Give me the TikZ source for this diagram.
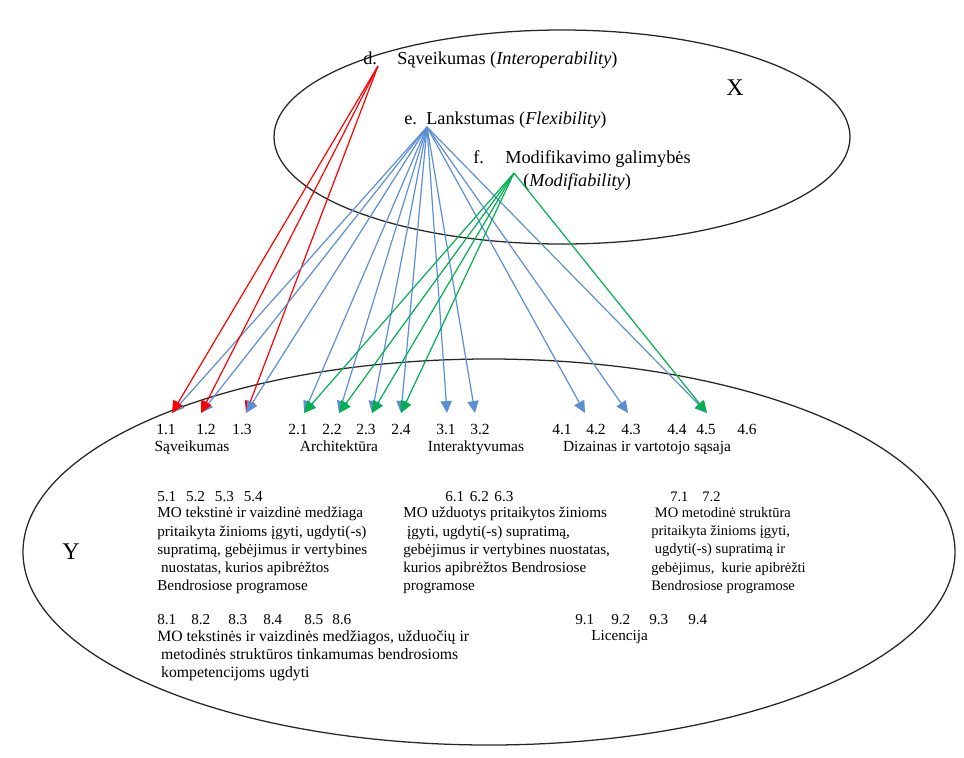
\documentclass[tikz,border=0pt]{standalone}
\usepackage{fontspec}
\setmainfont{Liberation Serif}
\usepackage{xcolor}
\usetikzlibrary{arrows.meta, positioning}

\definecolor{linkred}{RGB}{255,0,0}
\definecolor{linkblue}{RGB}{91,142,214}
\definecolor{linkgreen}{RGB}{0,176,80}

\begin{document}
\begin{tikzpicture}[x=0.025cm, y=-0.025cm,
    >={Triangle[length=8.5pt, width=8pt]},
    setline/.style={line width=0.9pt, black!85},
    redlink/.style={->, linkred, line width=0.85pt},
    bluelink/.style={->, linkblue, line width=0.85pt},
    greenlink/.style={->, linkgreen, line width=0.85pt},
    toptext/.style={font=\fontsize{13}{15}\selectfont, inner sep=0pt},
    codetext/.style={font=\fontsize{11}{13}\selectfont, inner sep=0pt},
    bodytext/.style={font=\fontsize{10.8}{13}\selectfont, inner sep=0pt, align=left},
    setname/.style={font=\fontsize{17}{19}\selectfont, inner sep=0pt}]

    \useasboundingbox (0,0) rectangle (964,757);

    % =================================================================
    % 1. THE TWO SETS X AND Y
    % =================================================================
    \draw[setline] (562,137) ellipse [x radius=288, y radius=107];
    \draw[setline] (489,552) ellipse [x radius=466, y radius=193];

    \node[setname] (setX) at (735,88) {X};
    \node[setname] (setY) at (71,552) {Y};

    % =================================================================
    % 2. PROPERTIES d, e, f INSIDE X
    % =================================================================
    \node[toptext, anchor=base west] (itemD) at (363,64) {d.};
    \node[toptext, anchor=base west] (propD) at (397,64) {Sąveikumas (\textit{Interoperability})};
    \node[toptext, anchor=base west] (itemE) at (404,124) {e.};
    \node[toptext, anchor=base west] (propE) at (426,124) {Lankstumas (\textit{Flexibility})};
    \node[toptext, anchor=base west] (itemF) at (473,163) {f.};
    \node[toptext, anchor=base west] (propF) at (505,163) {Modifikavimo galimybės};
    \node[toptext, anchor=base west] (propFb) at (523,186) {(\textit{Modifiability})};

    % arrow sources
    \coordinate (srcD) at (378,66);
    \coordinate (srcE) at (427,127);
    \coordinate (srcF) at (514,173);

    % =================================================================
    % 3. CRITERIA NUMBERS INSIDE Y
    % =================================================================
    \node[codetext, anchor=base] (n11) at (166,434) {1.1};
    \node[codetext, anchor=base] (n12) at (206,434) {1.2};
    \node[codetext, anchor=base] (n13) at (242,434) {1.3};
    \node[codetext, anchor=base] (n21) at (298,434) {2.1};
    \node[codetext, anchor=base] (n22) at (332,434) {2.2};
    \node[codetext, anchor=base] (n23) at (366,434) {2.3};
    \node[codetext, anchor=base] (n24) at (401,434) {2.4};
    \node[codetext, anchor=base] (n31) at (446,434) {3.1};
    \node[codetext, anchor=base] (n32) at (480,434) {3.2};
    \node[codetext, anchor=base] (n41) at (562,434) {4.1};
    \node[codetext, anchor=base] (n42) at (596,434) {4.2};
    \node[codetext, anchor=base] (n43) at (631,434) {4.3};
    \node[codetext, anchor=base] (n44) at (677,434) {4.4};
    \node[codetext, anchor=base] (n45) at (706,434) {4.5};
    \node[codetext, anchor=base] (n46) at (747,434) {4.6};

    \node[codetext, anchor=base] (grp1) at (192,451) {Sąveikumas};
    \node[codetext, anchor=base] (grp2) at (339,451) {Architektūra};
    \node[codetext, anchor=base] (grp3) at (476,451) {Interaktyvumas};
    \node[codetext, anchor=base] (grp4) at (647,451) {Dizainas ir vartotojo sąsaja};

    % arrow tips just above the numbers
    \coordinate (tip11) at (172,413);
    \coordinate (tip12) at (201,413);
    \coordinate (tip13) at (246,413);
    \coordinate (tip21) at (304,413);
    \coordinate (tip22) at (339,413);
    \coordinate (tip23) at (372,413);
    \coordinate (tip24) at (401,413);
    \coordinate (tip31) at (447,413);
    \coordinate (tip32) at (475,413);
    \coordinate (tip42) at (585,413);
    \coordinate (tip43) at (628,413);
    \coordinate (tip45) at (707,413);

    % =================================================================
    % 4. LINKS FROM THE PROPERTIES TO THE CRITERIA
    % =================================================================
    % red: d. Saveikumas
    \draw[redlink] (srcD) -- (tip13);

    % blue: e. Lankstumas
    \draw[bluelink] (srcE) -- (tip11);
    \draw[bluelink] (srcE) -- (tip12);
    \draw[bluelink] (srcE) -- (tip13);
    \draw[bluelink] (srcE) -- (tip21);
    \draw[bluelink] (srcE) -- (tip22);
    \draw[bluelink] (srcE) -- (tip23);
    \draw[bluelink] (srcE) -- (tip24);
    \draw[bluelink] (srcE) -- (tip31);
    \draw[bluelink] (srcE) -- (tip32);
    \draw[bluelink] (srcE) -- (tip42);
    \draw[bluelink] (srcE) -- (tip43);
    \draw[bluelink] (srcE) -- (tip45);

    \draw[redlink] (srcD) -- (tip11);
    \draw[redlink] (srcD) -- (tip12);

    % green: f. Modifikavimo galimybes
    \draw[greenlink] (srcF) -- (tip21);
    \draw[greenlink] (srcF) -- (tip22);
    \draw[greenlink] (srcF) -- (tip23);
    \draw[greenlink] (srcF) -- (tip24);
    \draw[greenlink] (srcF) -- (tip45);

    % =================================================================
    % 5. DESCRIPTIONS OF THE OTHER CRITERIA
    % =================================================================
    \node[bodytext, anchor=base west] (row5) at (157,501) {5.1\hspace{7pt}5.2\hspace{7pt}5.3\hspace{7pt}5.4};
    \node[bodytext, anchor=north west] (txt5) at (157,507)
        {MO tekstinė ir vaizdinė medžiaga\\pritaikyta žinioms įgyti, ugdyti(-s)\\supratimą, gebėjimus ir vertybines\\\ nuostatas, kurios apibrėžtos\\Bendrosiose programose};

    \node[bodytext, anchor=base west] (row6) at (445,501) {6.1\hspace{4pt}6.2\hspace{4pt}6.3};
    \node[bodytext, anchor=north west] (txt6) at (403,507)
        {MO užduotys pritaikytos žinioms\\\ įgyti, ugdyti(-s) supratimą,\\gebėjimus ir vertybines nuostatas,\\kurios apibrėžtos Bendrosiose\\programose};

    \node[bodytext, font=\fontsize{10.3}{13}\selectfont, anchor=base west] (row7) at (670,501) {7.1\hspace{10pt}7.2};
    \node[bodytext, font=\fontsize{10.3}{13}\selectfont, anchor=north west] (txt7) at (651,507)
        {\ MO metodinė struktūra\\pritaikyta žinioms įgyti,\\\ ugdyti(-s) supratimą ir\\gebėjimus,\ \ kurie apibrėžti\\Bendrosiose programose};

    \node[bodytext, anchor=base west] (n81) at (157,624) {8.1};
    \node[bodytext, anchor=base west] (n82) at (191,624) {8.2};
    \node[bodytext, anchor=base west] (n83) at (228,624) {8.3};
    \node[bodytext, anchor=base west] (n84) at (263,624) {8.4};
    \node[bodytext, anchor=base west] (n85) at (304,624) {8.5};
    \node[bodytext, anchor=base west] (n86) at (332,624) {8.6};
    \node[bodytext, font=\fontsize{11.2}{13}\selectfont, anchor=north west] (txt8) at (157,630)
        {MO tekstinės ir vaizdinės medžiagos, užduočių ir\\\ metodinės struktūros tinkamumas bendrosioms\\\ kompetencijoms ugdyti};

    \node[bodytext, anchor=base west] (n91) at (575,624) {9.1};
    \node[bodytext, anchor=base west] (n92) at (611,624) {9.2};
    \node[bodytext, anchor=base west] (n93) at (649,624) {9.3};
    \node[bodytext, anchor=base west] (n94) at (688,624) {9.4};
    \node[bodytext, anchor=north west] (txt9) at (591,630) {Licencija};

\end{tikzpicture}
\end{document}
